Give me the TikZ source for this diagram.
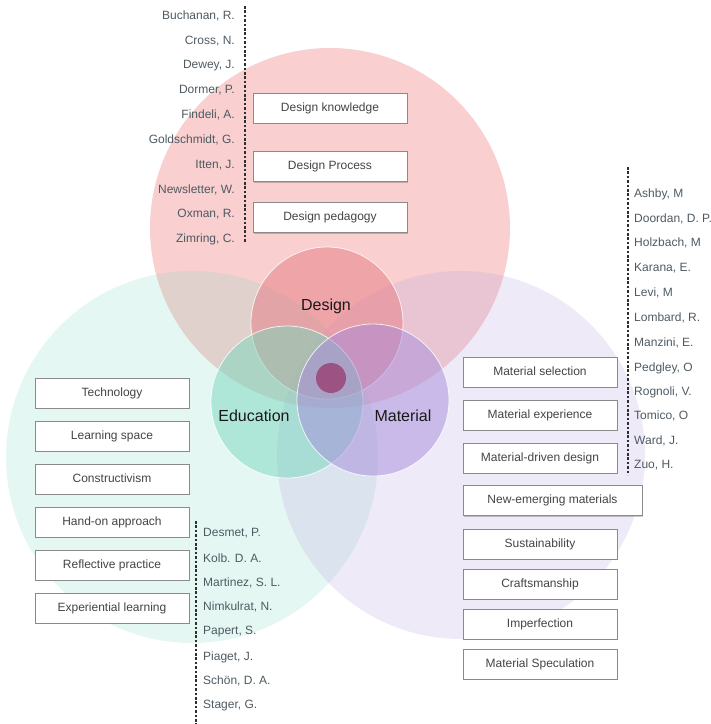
\documentclass[tikz,border=0pt]{standalone}
\usepackage{fontspec}
\setmainfont{Liberation Sans}
\usetikzlibrary{shadows}
\definecolor{pinkbig}{HTML}{EE8080}
\definecolor{tealbig}{HTML}{8ADBC6}
\definecolor{lavbig}{HTML}{B8A6E0}
\definecolor{pinksm}{HTML}{E67A82}
\definecolor{tealsm}{HTML}{78D8BC}
\definecolor{lavsm}{HTML}{A68BDA}
\definecolor{dotc}{HTML}{9C5282}
\definecolor{boxborder}{HTML}{8A8A8A}
\definecolor{boxtext}{HTML}{444444}
\definecolor{nametext}{HTML}{4E5A62}
\definecolor{dashc}{HTML}{2E2E2E}
\tikzset{
  stepbox/.style={draw=boxborder, line width=0.7pt, fill=white, minimum width=154pt,
    minimum height=30pt, inner sep=0pt, text height=8.6pt, text depth=2.6pt,
    font=\fontsize{12}{14}\selectfont, text=boxtext,
    drop shadow={shadow xshift=0.8pt, shadow yshift=-1.2pt, opacity=0.3, fill=black!70}},
  namel/.style={font=\fontsize{12}{14}\selectfont, text=nametext, inner sep=0pt, anchor=west},
  namer/.style={font=\fontsize{12}{14}\selectfont, text=nametext, inner sep=0pt, anchor=east},
  biglabel/.style={font=\fontsize{16}{18}\selectfont, text=black!90, inner sep=0pt},
  dashline/.style={draw=dashc, line width=1.5pt, dash pattern=on 2.6pt off 1.8pt},
  smallcirc/.style={draw=white, draw opacity=0.8, line width=0.8pt, fill opacity=0.5}
}
\begin{document}
\begin{tikzpicture}[x=1pt,y=-1pt]
\useasboundingbox (0,0) rectangle (711,724);
% big circles
\fill[pinkbig, fill opacity=0.38] (330,228) circle[radius=180];
\fill[tealbig, fill opacity=0.22] (192,457) circle[radius=186];
\fill[lavbig, fill opacity=0.24] (461,455) circle[radius=184];
% small circles
\path[smallcirc, fill=pinksm] (327,323) circle[radius=76];
\path[smallcirc, fill=tealsm] (287,402) circle[radius=76];
\path[smallcirc, fill=lavsm] (373,400) circle[radius=76];
\fill[dotc] (331,378) circle[radius=15];
\node[biglabel] (lDesign) at (326,306) {Design};
\node[biglabel] (lEdu) at (254,416) {Education};
\node[biglabel] (lMat) at (403,416) {Material};
% design boxes
\node[stepbox] (dk) at (330,108) {Design knowledge};
\node[stepbox] (dp) at (330,166.5) {Design Process};
\node[stepbox] (dped) at (330,217.5) {Design pedagogy};
% education boxes
\node[stepbox] (e1) at (112,393) {Technology};
\node[stepbox] (e2) at (112,436) {Learning space};
\node[stepbox] (e3) at (112,479) {Constructivism};
\node[stepbox] (e4) at (112,522) {Hand-on approach};
\node[stepbox] (e5) at (112,565) {Reflective practice};
\node[stepbox] (e6) at (112,608) {Experiential learning};
% material boxes
\node[stepbox] (m1) at (540,372) {Material selection};
\node[stepbox] (m2) at (540,415) {Material experience};
\node[stepbox] (m3) at (540,458) {Material-driven design};
\node[stepbox, minimum width=179pt] (m4) at (552.5,500.5) {New-emerging materials};
\node[stepbox] (m5) at (540,544) {Sustainability};
\node[stepbox] (m6) at (540,584) {Craftsmanship};
\node[stepbox] (m7) at (540,624) {Imperfection};
\node[stepbox] (m8) at (540,664) {Material Speculation};
% dashed lines
\coordinate (dA1) at (245,6); \coordinate (dA2) at (245,243);
\coordinate (dB1) at (628,167); \coordinate (dB2) at (628,475);
\coordinate (dC1) at (196,521); \coordinate (dC2) at (196,724);
\draw[dashline] (dA1) -- (dA2);
\draw[dashline] (dB1) -- (dB2);
\draw[dashline] (dC1) -- (dC2);
% design names
\node[namer] (n1) at (235,16) {Buchanan, R.};
\node[namer] (n2) at (235,41) {Cross, N.};
\node[namer] (n3) at (235,66) {Dewey, J.};
\node[namer] (n4) at (235,90) {Dormer, P.};
\node[namer] (n5) at (235,115) {Findeli, A.};
\node[namer] (n6) at (235,140) {Goldschmidt, G.};
\node[namer] (n7) at (235,165) {Itten, J.};
\node[namer] (n8) at (235,190) {Newsletter, W.};
\node[namer] (n9) at (235,214) {Oxman, R.};
\node[namer] (n10) at (235,239) {Zimring, C.};
% material names
\node[namel] (r1) at (634,194) {Ashby, M};
\node[namel] (r2) at (634,219) {Doordan, D. P.};
\node[namel] (r3) at (634,243) {Holzbach, M};
\node[namel] (r4) at (634,268) {Karana, E.};
\node[namel] (r5) at (634,293) {Levi, M};
\node[namel] (r6) at (634,318) {Lombard, R.};
\node[namel] (r7) at (634,343) {Manzini, E.};
\node[namel] (r8) at (634,368) {Pedgley, O};
\node[namel] (r9) at (634,392) {Rognoli, V.};
\node[namel] (r10) at (634,416) {Tomico, O};
\node[namel] (r11) at (634,441) {Ward, J.};
\node[namel] (r12) at (634,465) {Zuo, H.};
% education names
\node[namel] (b1) at (203,533) {Desmet, P.};
\node[namel] (b2) at (203,558) {Kolb. D. A.};
\node[namel] (b3) at (203,583) {Martinez, S. L.};
\node[namel] (b4) at (203,607) {Nimkulrat, N.};
\node[namel] (b5) at (203,632) {Papert, S.};
\node[namel] (b6) at (203,657) {Piaget, J.};
\node[namel] (b7) at (203,681) {Schön, D. A.};
\node[namel] (b8) at (203,706) {Stager, G.};
\end{tikzpicture}
\end{document}
